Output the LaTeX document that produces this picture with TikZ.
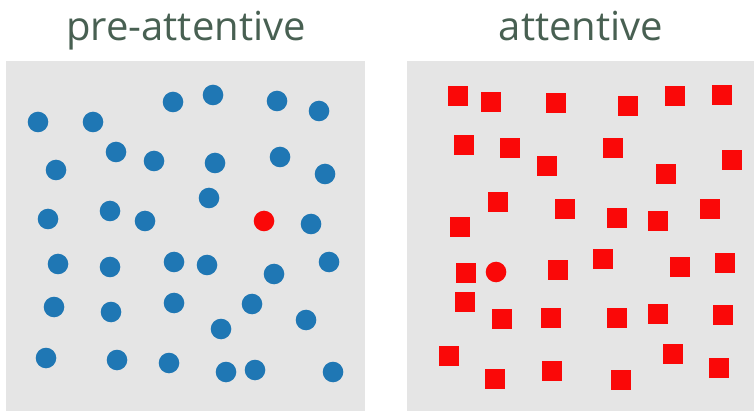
\documentclass[tikz,border=0pt]{standalone}
\usepackage{fontspec}
\setmainfont{Open Sans}
\usepackage{tikz}

\definecolor{titlegreen}{RGB}{72,96,82}
\definecolor{panelgray}{RGB}{229,229,229}
\definecolor{dotblue}{RGB}{31,119,180}
\definecolor{markred}{RGB}{250,8,8}

\begin{document}
\begin{tikzpicture}[x=1pt,y=1pt,yscale=-1,xscale=1,
  title/.style={text=titlegreen, font=\fontsize{40}{46}\selectfont, inner sep=0pt, anchor=base},
  panel/.style={fill=panelgray, draw=none},
  blue dot/.style={fill=dotblue, draw=none},
  red mark/.style={fill=markred, draw=none}]
\useasboundingbox (0,0) rectangle (754,411);
% titles
\node [title] (pretitle) at (186,41) {pre-attentive};
\node [title] (attitle) at (581,41) {attentive};
% panels
\fill [panel] (6,61) rectangle (365,411);
\fill [panel] (407,61) rectangle (754,411);
% pre-attentive: blue dots, one red
\foreach \x/\y in {38/122, 93/122, 173/102, 213/95, 277/101, 319/111,
  116/152, 56/170, 154/161, 215/163, 280/157, 325/174, 209/198,
  48/219, 110/211, 145/221, 311/224,
  58/264, 110/267, 174/262, 207/265, 274/274, 329/262,
  54/307, 111/312, 174/303, 252/304, 221/329, 306/320,
  46/358, 117/360, 169/363, 226/372, 255/370, 333/372}
  \filldraw [blue dot] (\x,\y) circle (10.3);
\filldraw [red mark] (264,221) circle (10.3);
% attentive: red squares, one red dot
\foreach \x/\y in {458/96, 491/102, 556/103, 628/106, 675/96, 722/95,
  464/145, 510/148, 547/166, 613/148, 666/174, 732/160,
  498/202, 460/227, 565/209, 617/218, 658/221, 710/209,
  466/273, 558/270, 603/259, 680/267, 725/263,
  465/302, 502/319, 551/318, 617/318, 658/314, 723/315,
  449/356, 673/354, 719/368, 495/379, 552/371, 621/380}
  \filldraw [red mark] (\x-10.3,\y-10.3) rectangle ++(20.6,20.6);
\filldraw [red mark] (496,272) circle (10.3);
\end{tikzpicture}
\end{document}
